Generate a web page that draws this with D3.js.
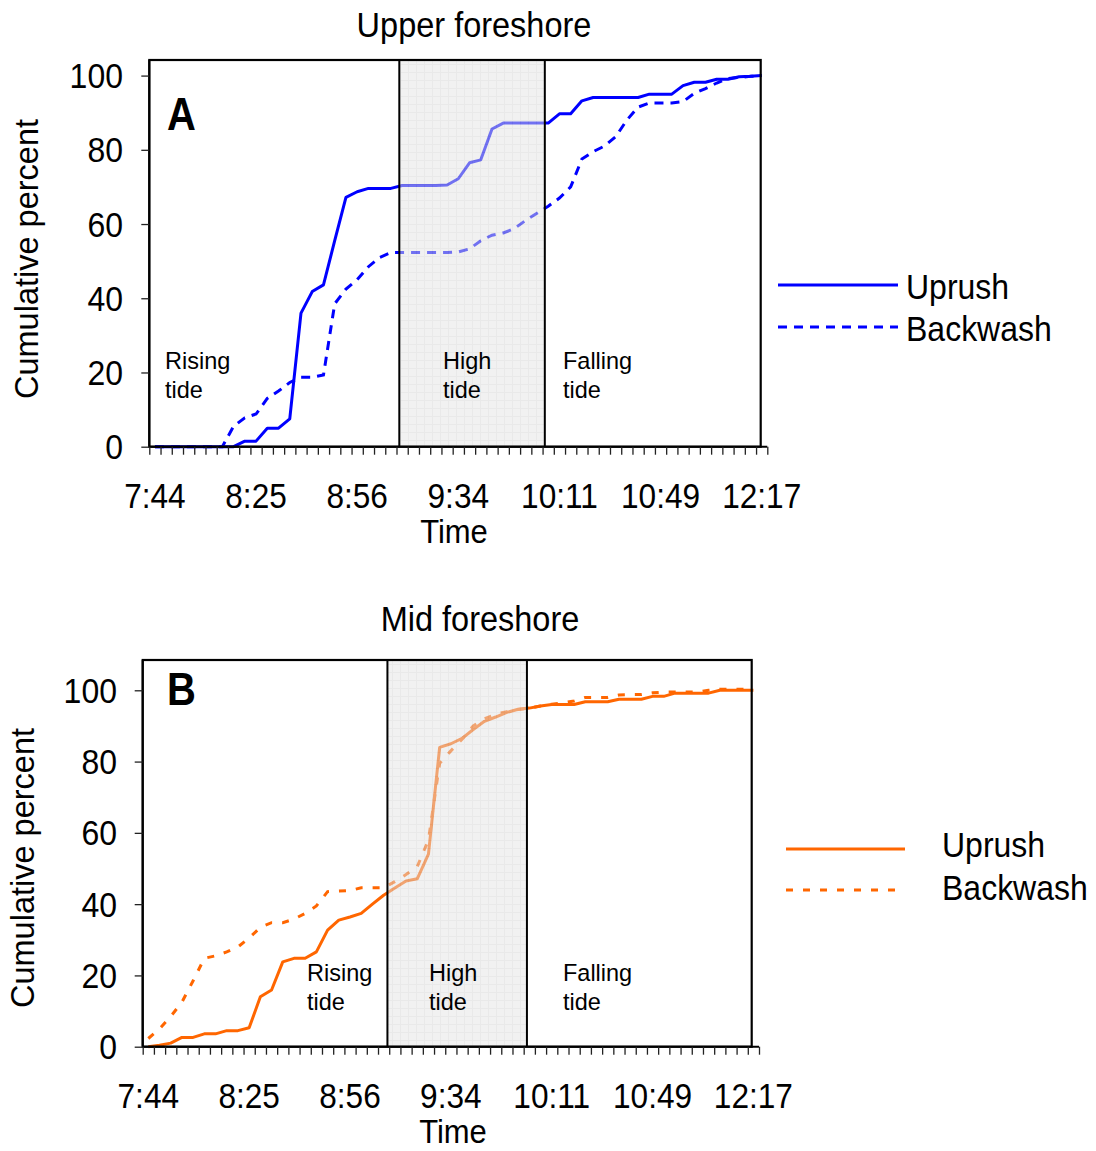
<!DOCTYPE html>
<html><head><meta charset="utf-8">
<script src="https://cdn.jsdelivr.net/npm/d3@7"></script>
<style>
body{margin:0;background:#fff}
text{font-family:"Liberation Sans",Arial,Helvetica,sans-serif;fill:#000}
</style>
</head><body>
<svg id="chart" width="1096" height="1151"></svg>
<script>
// ---------- data ----------
const categories = d3.range(55); // sampling intervals along the time axis
const tickLabelIndex = [0, 9, 18, 27, 36, 45, 54];
const tickLabels = ["7:44", "8:25", "8:56", "9:34", "10:11", "10:49", "12:17"];
const yTicks = [0, 20, 40, 60, 80, 100];
const seriesNames = ["Uprush", "Backwash"];
const tideNames = [["Rising", "tide"], ["High", "tide"], ["Falling", "tide"]];

const upperUprush = [0,0,0,0,0,0,0,0,1.5,1.5,5,5,7.5,36,41.8,43.6,55.5,67.2,68.7,69.6,
  69.6,69.6,70.4,70.4,70.4,70.4,70.5,72.2,76.5,77.3,85.6,87.2,87.2,87.2,87.2,87.2,89.7,89.7,93.2,94.1,
  94.1,94.1,94.1,94.1,95,95,95,97.3,98.2,98.2,99,99,99.7,99.8,100];
const upperBackwash = [0,0,0,0,0,0,0,5.5,7.8,8.8,13,15,17.3,18.7,18.7,19.3,38.5,42.5,45,48.5,
  51,52.3,52.3,52.3,52.3,52.3,52.3,52.5,53.3,55.5,57,57.6,58.8,61,62.9,64.8,67,70,77.5,79.5,
  81,83.5,88,91.5,92.6,92.6,92.6,93,95.2,96.5,98,99.2,99.5,99.8,100];
const midUprush = [0,0.4,1,2.6,2.6,3.6,3.6,4.5,4.5,5.3,14,15.9,23.8,24.8,24.8,26.6,32.7,35.5,36.4,37.4,
  40,42.5,44.5,46.5,47.1,54,84,85,86.5,89,91.3,92.5,93.8,94.7,95,95.6,96,96,96,96.8,
  96.8,96.8,97.5,97.5,97.5,98.3,98.3,99.2,99.2,99.2,99.2,100,100,100,100];
const midBackwash = [2.3,5,8.5,12.5,18.5,24.8,25.5,26.6,28,30.5,33.5,34.8,34.8,35.8,37.4,39.5,43.5,43.7,43.8,44.6,
  44.6,44.6,46.3,48.3,50.5,58,79.5,83,86.3,90,92,93.3,94,94.6,95,95.6,96.1,96.5,97,98,
  98,98,98.7,98.8,98.8,99.3,99.5,99.5,99.5,99.5,100,100.3,100.3,100.3,100.3];
// high-tide period boundaries, in sampling-interval units
const upperHighTide = [22.25, 35.2];
const midHighTide = [21.84, 34.29];

// ---------- layout ----------
const panels = [
  {title:"Upper foreshore", titleX:474, titleY:37, letter:"A", letterY:130,
   left:149.3, axisRight:767.3, frameRight:760.7, top:60, bottom:446.7, yMax:104.2,
   color:"#0000ff", up:upperUprush, back:upperBackwash, high:upperHighTide,
   backDash:"9,7", yTitleX:38, yTitleY:259, yLabelRight:123, timeX:454,
   tideX:[165, 443, 563], tideY:369,
   legLine:[778, 898], legText:906, legY:[285, 327], legTextY:[299, 341]},
  {title:"Mid foreshore", titleX:480, titleY:631, letter:"B", letterY:705,
   left:142.7, axisRight:759, frameRight:751.7, top:660, bottom:1046.7, yMax:108.5,
   color:"#ff6600", up:midUprush, back:midBackwash, high:midHighTide,
   backDash:"7,10", yTitleX:34, yTitleY:868, yLabelRight:117, timeX:453,
   tideX:[307, 429, 563], tideY:981,
   legLine:[786, 905], legText:942, legY:[849, 890], legTextY:[857, 900]}
];

const svg = d3.select("#chart");
svg.append("rect").attr("width",1096).attr("height",1151).attr("fill","#fff");

const defs = svg.append("defs");
const pat = defs.append("pattern").attr("id","grid").attr("patternUnits","userSpaceOnUse")
  .attr("width",8).attr("height",8);
pat.append("rect").attr("width",8).attr("height",8).attr("fill","#e2e2e2");
pat.append("path").attr("d","M0,0.5H8M0.5,0V8").attr("stroke","#d2d2d2").attr("stroke-width",1);

function stretchedText(g, str, x, y, opts) {
  const t = g.append("text")
    .attr("transform", `translate(${x},${y}) scale(${opts.sx||1},${opts.sy||1})`)
    .attr("font-size", opts.size)
    .attr("text-anchor", opts.anchor || "start")
    .text(str);
  if (opts.bold) t.attr("font-weight","bold");
  return t;
}

panels.forEach(p => {
  const g = svg.append("g");
  const x = d3.scaleLinear().domain([0, categories.length]).range([p.left, p.axisRight]);
  const y = d3.scaleLinear().domain([0, p.yMax]).range([p.bottom, p.top]);
  const cx = i => x(i + 0.5);

  const line = d3.line().x((d, i) => cx(categories[i])).y(d => y(d));

  // series
  g.append("path").datum(p.up).attr("d", line).attr("fill","none")
    .attr("stroke", p.color).attr("stroke-width", 3).attr("stroke-linejoin","round");
  g.append("path").datum(p.back).attr("d", line).attr("fill","none")
    .attr("stroke", p.color).attr("stroke-width", 3).attr("stroke-dasharray", p.backDash);

  // high tide shaded overlay
  g.append("rect").attr("x", x(p.high[0])).attr("y", p.top)
    .attr("width", x(p.high[1]) - x(p.high[0])).attr("height", p.bottom - p.top)
    .attr("fill","url(#grid)").attr("opacity",0.5);
  p.high.forEach(h => g.append("line").attr("x1", x(h)).attr("x2", x(h))
    .attr("y1", p.top).attr("y2", p.bottom).attr("stroke","#000").attr("stroke-width",2));

  // frame
  g.append("rect").attr("x", p.left).attr("y", p.top)
    .attr("width", p.frameRight - p.left).attr("height", p.bottom - p.top)
    .attr("fill","none").attr("stroke","#000").attr("stroke-width",2.2);

  // x axis ticks
  const xa = g.append("g").attr("transform", `translate(0,${p.bottom})`)
    .call(d3.axisBottom(x).tickValues(d3.range(categories.length + 1)).tickSize(8).tickFormat(""));
  xa.select(".domain").attr("stroke","#000").attr("stroke-width",2).attr("d", `M${p.left},0H${p.axisRight}`);
  xa.selectAll(".tick line").attr("stroke","#222").attr("stroke-width",1.3);

  // y axis ticks
  const ya = g.append("g").attr("transform", `translate(${p.left},0)`)
    .call(d3.axisLeft(y).tickValues(yTicks).tickSize(8).tickFormat(""));
  ya.select(".domain").attr("stroke","#000").attr("stroke-width",2).attr("d", `M0,${p.bottom}V${p.top}`);
  ya.selectAll(".tick line").attr("stroke","#222").attr("stroke-width",1.3);

  // tick labels
  yTicks.forEach(v => stretchedText(g, String(v), p.yLabelRight, y(v) + 12.5, {size:32, sy:1.12, anchor:"end"}));
  tickLabelIndex.forEach((ci, k) => stretchedText(g, tickLabels[k], cx(categories[ci]), p.bottom + 61,
    {size:31, sx:1.02, sy:1.12, anchor:"middle"}));

  // titles
  stretchedText(g, "Time", p.timeX, p.bottom + 96, {size:31, sy:1.05, anchor:"middle"});
  g.append("text").attr("transform", `translate(${p.yTitleX},${p.yTitleY}) rotate(-90)`)
    .attr("font-size", 32.5).attr("text-anchor","middle").text("Cumulative percent");
  stretchedText(g, p.title, p.titleX, p.titleY, {size:32.5, sy:1.08, anchor:"middle"});
  stretchedText(g, p.letter, 167, p.letterY, {size:40, sy:1.15, bold:true});

  // tide labels
  tideNames.forEach((tn, k) => {
    stretchedText(g, tn[0], p.tideX[k], p.tideY, {size:23.5, sy:1.05});
    stretchedText(g, tn[1], p.tideX[k], p.tideY + 29, {size:23.5, sy:1.05});
  });

  // legend
  seriesNames.forEach((s, k) => {
    const l = g.append("line").attr("x1", p.legLine[0]).attr("x2", p.legLine[1])
      .attr("y1", p.legY[k]).attr("y2", p.legY[k]).attr("stroke", p.color).attr("stroke-width",3);
    if (k === 1) l.attr("stroke-dasharray", p.backDash);
    stretchedText(g, s, p.legText, p.legTextY[k], {size:32, sy:1.08});
  });
});
</script>
</body></html>
